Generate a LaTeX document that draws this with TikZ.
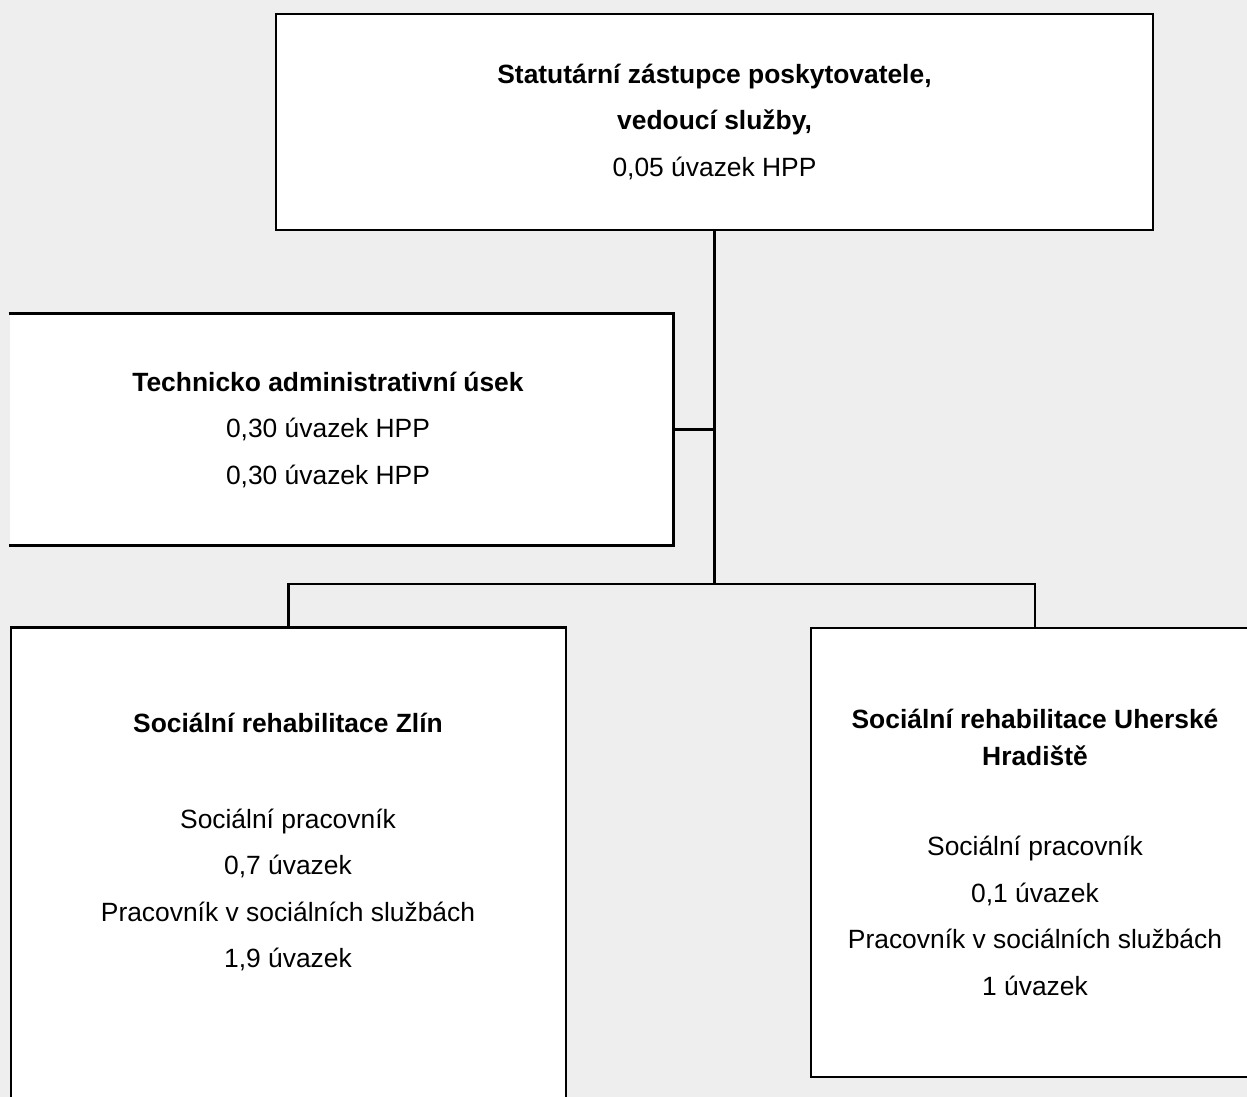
\documentclass[tikz,border=0pt]{standalone}
\usepackage{fontspec}
\setmainfont{Liberation Sans}
\usetikzlibrary{positioning}
\definecolor{pagegray}{HTML}{EEEEEE}
\tikzstyle{unit} = [rectangle, draw=black, line width=2.6pt, fill=white, align=center, font=\fontsize{26.4}{46.5}\selectfont]
\tikzstyle{unittext} = [align=center, font=\fontsize{26.4}{46.5}\selectfont]
\tikzstyle{link} = [line width=2.6pt]

\begin{document}
\begin{tikzpicture}[x=1pt, y=-1pt]
\fill [pagegray] (0,0) rectangle (1247,1097);
\useasboundingbox (0,0) rectangle (1247,1097);
\clip (0,0) rectangle (1247,1097);

\node (head) [unit, minimum width=877, minimum height=216] at (714.5,122) {\textbf{Statutární zástupce poskytovatele,}\\ \textbf{vedoucí služby,}\\ 0,05 úvazek HPP};

\node (tech) [unit, draw=none, minimum width=662, minimum height=229] at (341,429.5) {};
\draw [link] (tech.north west) -- (tech.north east) -- (tech.south east) -- (tech.south west);
\node (techtext) [unittext] at (328,430) {\textbf{Technicko administrativní úsek}\\ 0,30 úvazek HPP\\ 0,30 úvazek HPP};

\node (zlin) [unit, minimum width=555, minimum height=500, anchor=north] at (288.5,626) {};
\node (zlintext) [unittext] at (288,842) {\textbf{Sociální rehabilitace Zlín}\\[49.5pt] Sociální pracovník\\ 0,7 úvazek\\ Pracovník v sociálních službách\\ 1,9 úvazek};

\node (uh) [unit, minimum width=448, minimum height=449] at (1035,852.5) {\textbf{Sociální rehabilitace Uherské}\\[-9.5pt] \textbf{Hradiště}\\[43.5pt] Sociální pracovník\\ 0,1 úvazek\\ Pracovník v sociálních službách\\ 1 úvazek};

\coordinate (bus) at (714.5,584);

\draw [link] (head.south) -- (bus);
\draw [link] (tech.east) -- (tech.east -| head.south);
\draw [link] (zlin.north) |- (bus) -| (uh.north);

\end{tikzpicture}
\end{document}
